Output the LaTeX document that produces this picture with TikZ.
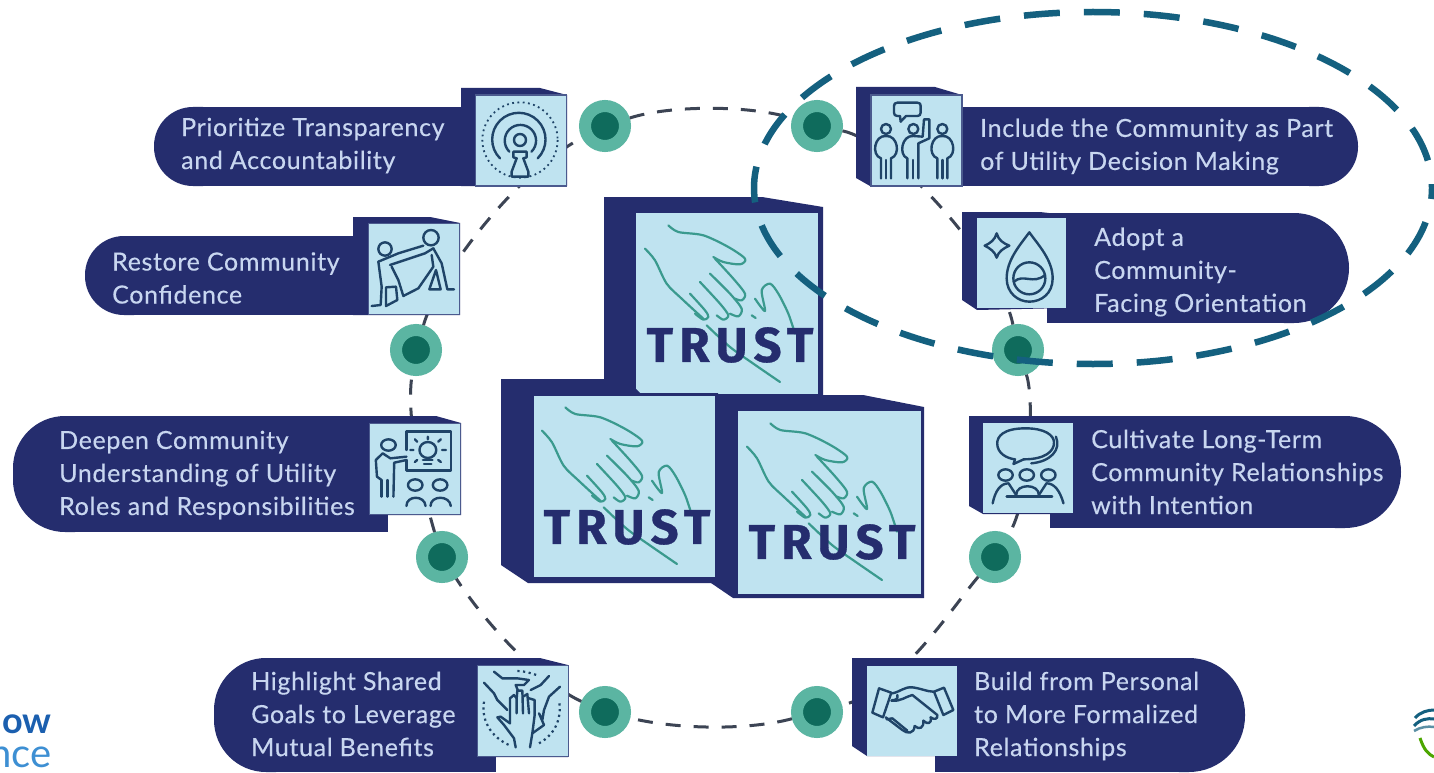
\documentclass[tikz,border=0pt]{standalone}
\usepackage{fontspec}
\setmainfont{Lato}
\newfontfamily\trustfont[LetterSpace=13,FakeBold=0.6]{Fira Sans Bold}
\newfontfamily\labelfont[LetterSpace=2.6,FakeBold=0.3]{Lato}
\definecolor{navy}{HTML}{252D6E}
\definecolor{lightb}{HTML}{BFE3F0}
\definecolor{dotout}{HTML}{5BB5A2}
\definecolor{dotin}{HTML}{0F6B5C}
\definecolor{labelc}{HTML}{C8D6F0}
\definecolor{iconc}{HTML}{1F4468}
\definecolor{handc}{HTML}{3A9A8E}
\definecolor{ringc}{HTML}{3C4454}
\definecolor{ovalc}{HTML}{14607F}
\definecolor{logoa}{HTML}{1B5FAF}
\definecolor{logob}{HTML}{3D8FD3}
\tikzset{
  ringdot/.style={circle,fill=dotin,draw=dotout,line width=12pt,minimum size=40pt,inner sep=0pt},
  ringlink/.style={draw=ringc,line width=3pt,dash pattern=on 15pt off 13pt},
  iconbox/.style={draw=navy!75!lightb,line width=1.5pt,fill=lightb,inner sep=0pt},
  cubeface/.style={draw=navy,line width=3pt,fill=lightb,inner sep=0pt},
  pilltext/.style={anchor=west,inner sep=0pt,align=left,text=labelc,font=\labelfont\fontsize{25}{33}\selectfont},
  trustword/.style={inner sep=0pt,text=navy,font=\trustfont\fontsize{49}{49}\selectfont},
  icon/.style={draw=iconc,line width=2.4pt,line join=round,line cap=round},
  handline/.style={draw=handc,line width=2.2pt,line join=round,line cap=round},
  zA/.style={shift={(140,80)},x=.33333pt,y=-.33333pt},
  zB/.style={shift={(780,80)},x=.33333pt,y=-.33333pt},
  zC/.style={shift={(0,400)},x=.38270pt,y=-.33333pt},
  zD/.style={shift={(840,400)},x=.37880pt,y=-.33333pt},
  zE/.style={shift={(474,660)},x=.33333pt,y=-.33333pt},
  zF/.style={shift={(864,660)},x=.33333pt,y=-.33333pt}
}
\newcommand{\pillL}[5]{% left x, top, bottom, right x, radius
  \fill[navy,rounded corners=#5] (#1,#2) rectangle ({#1+2*#5+10},#3);
  \fill[navy] ({#1+#5},#2) rectangle (#4,#3);}
\newcommand{\pillR}[5]{% left x, top, bottom, right x, radius
  \fill[navy,rounded corners=#5] ({#4-2*#5-10},#2) rectangle (#4,#3);
  \fill[navy] (#1,#2) rectangle ({#4-#5},#3);}
\newcommand{\handsat}[2]{%
  \begin{scope}[shift={(#1,#2)},x=.33333pt,y=-.33333pt,shift={(-435,-65)}]
    \draw[handline] plot[smooth] coordinates {(535,105) (565,125) (640,135) (715,170) (765,205) (750,222) (700,215) (670,200)};
    \draw[handline] plot[smooth] coordinates {(675,205) (730,265) (765,310) (755,330) (735,325)};
    \draw[handline] plot[smooth] coordinates {(660,250) (720,310) (755,355) (745,378) (720,370)};
    \draw[handline] plot[smooth] coordinates {(630,275) (690,340) (715,375) (700,388) (680,375)};
    \draw[handline] plot[smooth] coordinates {(600,310) (645,360) (655,380) (640,388) (615,370)};
    \draw[handline] plot[smooth] coordinates {(465,175) (495,210) (530,280) (575,325) (640,385)};
    \draw[handline] plot[smooth] coordinates {(795,325) (825,362) (815,300) (840,280) (865,310) (895,370) (915,430)};
    \draw[handline] plot[smooth] coordinates {(650,405) (720,470) (790,520) (870,575)};
    \draw[handline] (785,375) -- (797,383);
  \end{scope}}
\begin{document}
\begin{tikzpicture}[x=1pt,y=-1pt]
\useasboundingbox (0,0) rectangle (1434,773);
\fill[white] (0,0) rectangle (1434,773);
% logos at the edges
\node[anchor=base east,inner sep=0pt,text=logoa,font=\fontsize{36}{36}\selectfont\bfseries] (logotop) at (52,733) {ow};
\node[anchor=base east,inner sep=0pt,text=logob,font=\fontsize{40}{40}\selectfont] (logobot) at (52,767) {nce};
\draw[line width=3pt,ovalc] (1415,718) .. controls (1420,712) and (1428,710) .. (1434,710);
\draw[line width=3pt,ovalc] (1414,726) .. controls (1420,719) and (1428,718) .. (1434,719);
\draw[line width=2.5pt,ovalc!70!white] (1414,731) .. controls (1420,727) and (1428,726) .. (1434,727);
\draw[line width=3pt,green!50!black!70!yellow] (1420,738) .. controls (1424,750) and (1428,754) .. (1434,757);
% ring dots
\node[ringdot] (d1) at (605,126) {};
\node[ringdot] (d2) at (817,126) {};
\node[ringdot] (d3) at (1018,350) {};
\node[ringdot] (d4) at (995,557) {};
\node[ringdot] (d5) at (817,712) {};
\node[ringdot] (d6) at (605,712) {};
\node[ringdot] (d7) at (442,557) {};
\node[ringdot] (d8) at (416,350) {};
% ring links
\draw[ringlink] (d1) .. controls (670,105) and (750,105) .. (d2);
\draw[ringlink] (d2) .. controls (890,140) and (1000,260) .. (d3);
\draw[ringlink] (d3) .. controls (1035,400) and (1030,500) .. (d4);
\draw[ringlink] (d4) .. controls (950,610) and (900,690) .. (d5);
\draw[ringlink] (d5) .. controls (750,730) and (680,730) .. (d6);
\draw[ringlink] (d6) .. controls (545,685) and (490,630) .. (d7);
\draw[ringlink] (d7) .. controls (425,500) and (405,420) .. (d8);
\draw[ringlink] (d8) .. controls (440,270) and (520,170) .. (d1);
% cubes
\fill[navy] (604,197) -- (762,197) -- (823,207) -- (823,398) -- (625,398) -- (604,382) -- cycle;
\node[cubeface,minimum width=185pt,minimum height=184pt] (cubeT) at (727,303) {};
\handsat{635}{212}
\node[trustword] (trustT) at (730,345) {TRUST};
\fill[navy] (501,379) -- (626,379) -- (640,393) -- (718,393) -- (718,583) -- (528,583) -- (501,565) -- cycle;
\node[cubeface,minimum width=184pt,minimum height=184pt] (cubeL) at (624,486) {};
\handsat{532}{394}
\node[trustword] (trustL) at (627,527) {TRUST};
\fill[navy] (717,395) -- (863,395) -- (924,407) -- (924,598) -- (733,598) -- (711,583) -- (717,583) -- cycle;
\node[cubeface,minimum width=186pt,minimum height=186pt] (cubeR) at (829.5,502.5) {};
\handsat{737}{410}
\node[trustword] (trustR) at (832,542) {TRUST};
% --- Prioritize
\pillL{154}{107}{186}{500}{39}
\fill[navy] (461,88) -- (540,88) -- (567,95) -- (567,186) -- (461,186) -- cycle;
\node[iconbox,minimum width=91pt,minimum height=91pt] (b1) at (521,140.5) {};
\node[pilltext] (t1) at (181,145.5) {Prioritize Transparency\\and Accountability};
\begin{scope}[zA]
  \draw[iconc,line width=1.8pt,dash pattern=on 1.8pt off 3.5pt] (1140,180) circle[radius=113];
  \draw[icon] (1080,235) arc[start angle=135,end angle=405,radius=80];
  \draw[icon] (1108,215) arc[start angle=135,end angle=405,radius=47];
  \draw[icon] (1140,180) circle[radius=18];
  \draw[icon] (1120,215) -- (1160,215) -- (1160,232) -- (1150,235) -- (1165,275) -- (1165,290) -- (1115,290) -- (1115,275) -- (1130,235) -- (1120,232) -- cycle;
\end{scope}
% --- Restore
\pillL{85}{236}{315}{400}{39}
\fill[navy] (353,217) -- (430,217) -- (460,223) -- (460,315) -- (353,315) -- cycle;
\node[iconbox,minimum width=91pt,minimum height=91pt] (b2) at (414,269) {};
\node[pilltext] (t2) at (112,278) {Restore Community\\Confidence};
\begin{scope}[zA]
  \draw[icon] (735,507) circle[radius=20];
  \draw[icon] (873,473) circle[radius=23];
  \draw[icon] (715,545) -- (775,520) -- (850,497);
  \draw[icon] (750,555) -- (855,520) -- (880,505);
  \draw[icon] (715,545) -- (725,620) -- (722,675) -- (695,678);
  \draw[icon] (755,560) -- (775,600) -- (790,648) -- (835,625) -- (880,560) -- (875,525);
  \draw[icon] (880,505) -- (905,550) -- (922,628) -- (942,628);
  \draw[icon] (738,622) -- (768,620) -- (772,660) -- (738,678) -- cycle;
  \draw[icon] (888,570) -- (868,628) -- (902,628) -- cycle;
\end{scope}
% --- Deepen
\pillL{13}{416}{532}{388}{52}
\fill[navy] (330,416) -- (436,416) -- (461,423) -- (461,515) -- (330,515) -- cycle;
\node[iconbox,minimum width=91pt,minimum height=91pt] (b3) at (415,469) {};
\node[pilltext] (t3) at (59,475) {Deepen Community\\Understanding of Utility\\Roles and Responsibilities};
\begin{scope}[zC]
  \draw[icon] (1062,150) -- (1062,95) -- (1178,95) -- (1178,212) -- (1062,212) -- (1062,180);
  \draw[icon] (1118,150) ellipse[x radius=22,y radius=24];
  \draw[icon] (1105,180) -- (1130,180) (1108,192) -- (1127,192);
  \draw[icon] (1118,110) -- (1118,118) (1080,150) -- (1072,150) (1155,150) -- (1165,150) (1090,125) -- (1084,118) (1145,125) -- (1152,118) (1090,180) -- (1084,186) (1145,180) -- (1152,186);
  \draw[icon] (1015,135) ellipse[x radius=19,y radius=17];
  \draw[icon] (1062,170) -- (1020,175) -- (1000,160) -- (982,180) -- (985,230) -- (997,240);
  \draw[icon] (1062,180) -- (1030,188) -- (1028,290);
  \draw[icon] (997,240) -- (997,290) (1012,240) -- (1012,290);
  \draw[icon] (1085,255) ellipse[x radius=19,y radius=17];
  \draw[icon] (1150,255) ellipse[x radius=19,y radius=17];
  \draw[icon] (1062,318) .. controls (1062,285) and (1110,285) .. (1112,318);
  \draw[icon] (1125,318) .. controls (1125,285) and (1175,285) .. (1178,318);
\end{scope}
% --- Highlight
\pillL{214}{658}{772}{496}{52}
\fill[navy] (440,658) -- (540,658) -- (568,665) -- (568,757) -- (440,757) -- cycle;
\node[iconbox,minimum width=91pt,minimum height=91pt] (b4) at (523,711) {};
\node[pilltext] (t4) at (251,714) {Highlight Shared\\Goals to Leverage\\Mutual Benefits};
\begin{scope}[zE]
  \draw[iconc,line width=2.2pt,dash pattern=on 2.2pt off 3.5pt] (30,125) .. controls (20,190) and (60,235) .. (105,255);
  \draw[iconc,line width=2.2pt,dash pattern=on 2.2pt off 3.5pt] (195,250) .. controls (240,225) and (265,180) .. (255,120);
  \draw[iconc,line width=2.2pt,dash pattern=on 2.2pt off 3.5pt] (130,33) .. controls (150,33) and (175,40) .. (195,48);
  \draw[icon] (60,35) -- (85,55) -- (130,55) -- (165,60) -- (150,75) -- (125,75) -- (132,92);
  \draw[icon] (225,48) -- (200,75) -- (170,90);
  \draw[icon] (30,68) -- (60,100) -- (70,120) -- (100,150);
  \draw[icon] (258,80) -- (225,110) -- (210,150) -- (205,180) -- (195,160) -- (210,195) -- (175,220) -- (168,262);
  \draw[icon] (125,262) -- (120,235) -- (90,195) -- (70,172) -- (80,170) -- (108,190) -- (108,115) -- (120,105) -- (128,115) -- (128,160);
  \draw[icon] (128,115) -- (130,92) -- (145,92) -- (147,160);
  \draw[icon] (147,110) -- (160,102) -- (165,160);
  \draw[icon] (165,115) -- (182,120) -- (182,165) -- (175,220);
\end{scope}
% --- Include
\pillR{950}{107}{186}{1358}{39}
\fill[navy] (856,87) -- (935,87) -- (962,95) -- (962,186) -- (870,186) -- (856,178) -- cycle;
\node[iconbox,minimum width=91pt,minimum height=91pt] (b5) at (916.5,140.5) {};
\node[pilltext] (t5) at (980,146.5) {Include the Community as Part\\of Utility Decision Making};
\begin{scope}[zB]
  \draw[icon] (352,68) -- (412,68) .. controls (420,68) and (422,72) .. (422,78) -- (422,98) .. controls (422,105) and (418,108) .. (412,108) -- (378,108) -- (362,125) -- (360,108) -- (352,108) .. controls (345,108) and (342,104) .. (342,98) -- (342,78) .. controls (342,72) and (345,68) .. (352,68) -- cycle;
  \foreach \cx in {318,487}{
    \draw[icon] (\cx,147) circle[radius=15];
    \draw[icon] ({\cx-15},295) -- ({\cx-15},235) .. controls ({\cx-45},225) and ({\cx-35},165) .. (\cx,168) .. controls ({\cx+35},165) and ({\cx+45},225) .. ({\cx+15},235) -- ({\cx+15},295);
    \draw[icon] (\cx,240) -- (\cx,295);
  }
  \draw[icon] (400,147) circle[radius=15];
  \draw[icon] (382,295) -- (382,235) .. controls (355,225) and (365,165) .. (400,168) -- (428,170) -- (432,118) -- (448,118) -- (448,175) -- (415,190) -- (415,295);
  \draw[icon] (399,240) -- (399,295);
\end{scope}
% --- Adopt
\pillR{1047}{213}{323}{1349}{55}
\fill[navy] (962,212) -- (1040,212) -- (1066,215) -- (1066,308) -- (977,310) -- (962,300) -- cycle;
\node[iconbox,draw=none,minimum width=89pt,minimum height=90pt] (b6) at (1021.5,263) {};
\node[pilltext] (t6) at (1094,272) {Adopt a\\Community-\\Facing Orientation};
\begin{scope}[zB]
  \draw[icon] (650,460) .. controls (655,480) and (670,490) .. (688,497) .. controls (670,505) and (655,515) .. (650,533) .. controls (645,515) and (630,505) .. (614,497) .. controls (630,490) and (645,480) .. (650,460) -- cycle;
  \draw[icon] (748,457) .. controls (720,495) and (680,540) .. (680,595) .. controls (680,640) and (715,665) .. (748,665) .. controls (785,665) and (818,640) .. (818,595) .. controls (818,540) and (775,495) .. (748,457) -- cycle;
  \draw[icon] (748,595) circle[radius=48];
  \draw[icon] (702,605) .. controls (730,580) and (760,615) .. (795,585);
\end{scope}
% --- Cultivate
\pillR{1050}{416}{528}{1401}{56}
\fill[navy] (969,416) -- (1060,416) -- (1074,423) -- (1074,514) -- (983,514) -- (969,506) -- cycle;
\node[iconbox,draw=none,minimum width=90pt,minimum height=90pt] (b7) at (1028,468) {};
\node[pilltext] (t7) at (1091,472) {Cultivate Long-Term\\Community Relationships\\with Intention};
\begin{scope}[zD]
  \draw[icon] (490,85) .. controls (430,85) and (415,110) .. (415,130) .. controls (415,160) and (440,175) .. (462,178) -- (458,192) -- (485,178) .. controls (540,178) and (565,155) .. (565,128) .. controls (565,105) and (540,85) .. (490,85) -- cycle;
  \draw[icon] (570,110) .. controls (585,150) and (555,185) .. (505,190);
  \draw[icon] (437,225) ellipse[x radius=19,y radius=17];
  \draw[icon] (493,225) ellipse[x radius=19,y radius=17];
  \draw[icon] (550,225) ellipse[x radius=19,y radius=17];
  \draw[icon] (403,310) .. controls (410,270) and (425,250) .. (445,250) -- (465,285);
  \draw[icon] (590,310) .. controls (580,270) and (565,250) .. (545,250) -- (525,285);
  \draw[icon] (465,285) .. controls (465,250) and (525,250) .. (525,285);
  \draw[icon] (440,290) -- (560,290);
\end{scope}
% --- Build
\pillR{935}{658}{772}{1245}{56}
\fill[navy] (852,658) -- (940,658) -- (958,665) -- (958,756) -- (867,756) -- (852,746) -- cycle;
\node[iconbox,draw=none,minimum width=90pt,minimum height=90pt] (b8) at (912,710.5) {};
\node[pilltext] (t8) at (974,716) {Build from Personal\\to More Formalized\\Relationships};
\begin{scope}[zF]
  \draw[icon] (45,85) -- (82,98) -- (57,172) -- (25,158) -- cycle;
  \draw[icon] (210,95) -- (240,83) -- (268,150) -- (238,165) -- cycle;
  \draw[icon] (85,100) .. controls (110,95) and (120,80) .. (145,82) .. controls (170,85) and (190,95) .. (208,95);
  \draw[icon] (82,122) .. controls (110,125) and (125,110) .. (145,105) .. controls (170,125) and (195,145) .. (220,165) .. controls (222,178) and (210,180) .. (200,172);
  \draw[icon] (200,172) .. controls (205,190) and (190,195) .. (178,182);
  \draw[icon] (178,182) .. controls (180,205) and (165,210) .. (152,198);
  \draw[icon] (152,198) .. controls (150,222) and (130,222) .. (115,210) -- (65,172);
  \draw[icon] (68,178) -- (85,175) -- (130,212);
  \draw[icon] (100,105) .. controls (105,118) and (90,122) .. (84,120);
\end{scope}
% highlighted oval
\draw[ovalc,line width=6.5pt,dash pattern=on 36pt off 24pt,dash phase=25pt] (1093,188) ellipse[x radius=339,y radius=176];
\end{tikzpicture}
\end{document}
